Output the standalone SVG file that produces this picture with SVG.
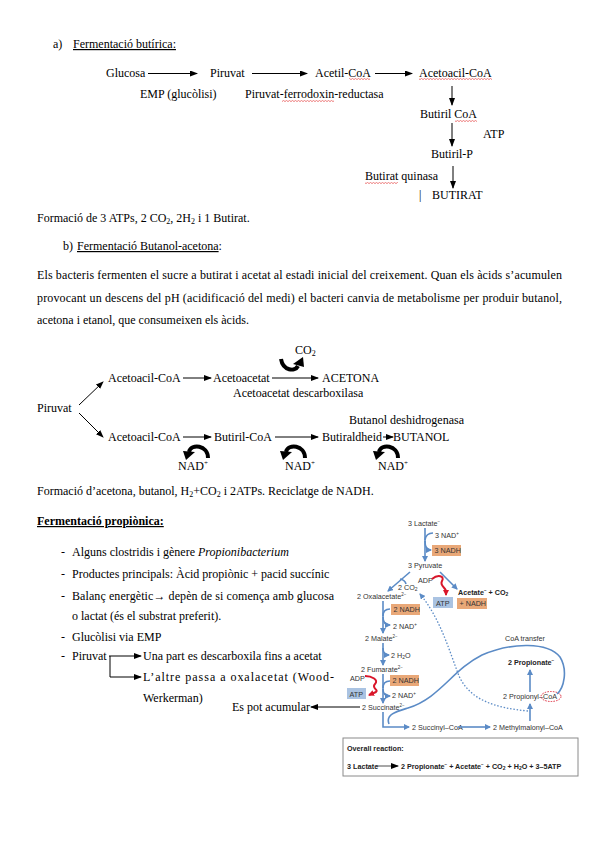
<svg xmlns="http://www.w3.org/2000/svg" width="599" height="848" viewBox="0 0 599 848">
<defs>
<style>
.t{font-family:"Liberation Serif","Times New Roman",serif;font-size:12px;fill:#000}
.tb{font-family:"Liberation Serif","Times New Roman",serif;font-size:12px;font-weight:bold;fill:#000}
.f{font-family:"Liberation Sans",Arial,sans-serif;font-size:7.2px;fill:#333}
.fb{font-family:"Liberation Sans",Arial,sans-serif;font-size:7.2px;font-weight:bold;fill:#222}
.ln{stroke:#000;stroke-width:1;fill:none}
.thk{stroke:#000;stroke-width:4;fill:none}
.bl{stroke:#5b8bc6;stroke-width:1.6;fill:none}
.dt{stroke:#5b8bc6;stroke-width:1.3;fill:none;stroke-dasharray:1.5 1.8}
.rd{stroke:#d9162a;stroke-width:2;fill:none}
.nadh{fill:#e9a878}
.atp{fill:#aac3e2}
.sq{fill:url(#sq)}
</style>
<marker id="ah" markerWidth="8" markerHeight="6" refX="7" refY="3" orient="auto" markerUnits="userSpaceOnUse"><path d="M0,0 L8,3 L0,6 z" fill="#000"/></marker>
<marker id="bh" markerWidth="6" markerHeight="6" refX="5" refY="3" orient="auto" markerUnits="userSpaceOnUse"><path d="M0,0 L6,3 L0,6 z" fill="#5b8bc6"/></marker>
<marker id="rh" markerWidth="6" markerHeight="6" refX="5" refY="3" orient="auto" markerUnits="userSpaceOnUse"><path d="M0,0 L6,3 L0,6 z" fill="#d9162a"/></marker>
<pattern id="sq" width="3" height="2" patternUnits="userSpaceOnUse"><path d="M0,1.6 L1.5,0.4 L3,1.6" stroke="#e02020" stroke-width="0.6" fill="none"/></pattern>
</defs>
<rect width="599" height="848" fill="#fff"/>

<!-- Section a -->
<g id="section-a-title">
<text class="t" x="53" y="48">a)</text>
<text class="t" x="73" y="48" text-decoration="underline">Fermentació butírica:</text>
</g>
<g id="node-glucosa"><text class="t" x="106" y="77">Glucosa</text></g>
<g id="node-piruvat-a"><text class="t" x="210" y="77">Piruvat</text></g>
<g id="node-acetilcoa"><text class="t" x="315" y="77">Acetil-CoA</text><rect class="sq" x="349" y="78" width="21" height="2"/></g>
<g id="node-acetoacilcoa-a"><text class="t" x="419" y="77">Acetoacil-CoA</text><rect class="sq" x="419" y="78" width="73" height="2"/></g>
<g id="label-emp"><text class="t" x="140" y="98">EMP (glucòlisi)</text></g>
<g id="label-pfr"><text class="t" x="245" y="98">Piruvat-ferrodoxin-reductasa</text><rect class="sq" x="282" y="100" width="52" height="2"/></g>
<g id="node-butirilcoa"><text class="t" x="420" y="118">Butiril CoA</text><rect class="sq" x="455" y="120" width="22" height="2"/></g>
<g id="label-atp-a"><text class="t" x="483" y="138">ATP</text></g>
<g id="node-butirilp"><text class="t" x="431" y="158">Butiril-P</text></g>
<g id="label-bq"><text class="t" x="365" y="180">Butirat quinasa</text><rect class="sq" x="365" y="182" width="33" height="2"/></g>
<g id="node-butirat"><text class="t" x="419" y="199">|</text><text class="t" x="432" y="199">BUTIRAT</text></g>

<g id="connectors-a">
<line class="ln" x1="148" y1="73.5" x2="197" y2="73.5" marker-end="url(#ah)"/>
<line class="ln" x1="252" y1="73.5" x2="307" y2="73.5" marker-end="url(#ah)"/>
<line class="ln" x1="375" y1="73.5" x2="412" y2="73.5" marker-end="url(#ah)"/>
<line class="ln" x1="452" y1="86" x2="452" y2="105" marker-end="url(#ah)"/>
<line class="ln" x1="452" y1="123" x2="452" y2="146" marker-end="url(#ah)"/>
<line class="ln" x1="453" y1="166" x2="453" y2="188" marker-end="url(#ah)"/>
</g>

<g id="summary-a"><text class="t" x="37" y="222">Formació de 3 ATPs, 2 CO<tspan font-size="8" dy="2">2</tspan><tspan dy="-2">, 2H</tspan><tspan font-size="8" dy="2">2</tspan><tspan dy="-2"> i 1 Butirat.</tspan></text></g>

<!-- Section b -->
<g id="section-b-title">
<text class="t" x="63" y="250">b)</text>
<text class="t" x="77" y="250"><tspan text-decoration="underline">Fermentació Butanol-acetona</tspan>:</text>
</g>
<g id="paragraph-b">
<text class="t" x="37" y="279" textLength="525" lengthAdjust="spacing">Els bacteris fermenten el sucre a butirat i acetat al estadi inicial del creixement. Quan els àcids s’acumulen</text>
<text class="t" x="37" y="302" textLength="525" lengthAdjust="spacing">provocant un descens del pH (acidificació del medi) el bacteri canvia de metabolisme per produir butanol,</text>
<text class="t" x="37" y="324">acetona i etanol, que consumeixen els àcids.</text>
</g>

<g id="node-piruvat-b"><text class="t" x="37" y="412">Piruvat</text></g>
<g id="node-acetoacilcoa-b1"><text class="t" x="108" y="382">Acetoacil-CoA</text></g>
<g id="node-acetoacetat"><text class="t" x="213" y="382">Acetoacetat</text></g>
<g id="node-acetona"><text class="t" x="322" y="382">ACETONA</text></g>
<g id="label-co2-b"><text class="t" x="295" y="354">CO<tspan font-size="8" dy="2">2</tspan></text></g>
<g id="label-descarb"><text class="t" x="233" y="397">Acetoacetat descarboxilasa</text></g>
<g id="label-butdeh"><text class="t" x="349" y="424">Butanol deshidrogenasa</text></g>
<g id="node-acetoacilcoa-b2"><text class="t" x="108" y="441">Acetoacil-CoA</text></g>
<g id="node-butirilcoa-b"><text class="t" x="214" y="441">Butiril-CoA</text></g>
<g id="node-butiraldheid"><text class="t" x="322" y="441">Butiraldheid</text></g>
<g id="node-butanol"><text class="t" x="393" y="441">BUTANOL</text></g>
<g id="label-nad-1"><text class="t" x="178" y="470">NAD<tspan font-size="7" dy="-5">+</tspan></text></g>
<g id="label-nad-2"><text class="t" x="285" y="470">NAD<tspan font-size="7" dy="-5">+</tspan></text></g>
<g id="label-nad-3"><text class="t" x="378" y="470">NAD<tspan font-size="7" dy="-5">+</tspan></text></g>

<g id="connectors-b">
<line class="ln" x1="79" y1="405" x2="103" y2="382" marker-end="url(#ah)"/>
<line class="ln" x1="79" y1="413" x2="103" y2="437" marker-end="url(#ah)"/>
<line class="ln" x1="183" y1="378" x2="211" y2="378" marker-end="url(#ah)"/>
<line class="ln" x1="272" y1="378" x2="318" y2="378" marker-end="url(#ah)"/>
<line class="ln" x1="183" y1="437" x2="211" y2="437" marker-end="url(#ah)"/>
<line class="ln" x1="275" y1="437" x2="318" y2="437" marker-end="url(#ah)"/>
<line class="ln" x1="383" y1="437" x2="393" y2="437" marker-end="url(#ah)"/>
<path class="thk" d="M281,359 C283,371 295,372 298,366"/>
<polygon points="293,364 304,367 303,357" fill="#000"/>
<path class="thk" d="M208,458 C208,445 191,443 189,452"/>
<polygon points="183,451 195,452 186,460" fill="#000"/>
<path class="thk" d="M305,458 C305,445 288,443 286,452"/>
<polygon points="280,451 292,452 283,460" fill="#000"/>
<path class="thk" d="M398,458 C398,445 381,443 379,452"/>
<polygon points="373,451 385,452 376,460" fill="#000"/>
</g>

<g id="summary-b"><text class="t" x="37" y="495">Formació d’acetona, butanol, H<tspan font-size="8" dy="2">2</tspan><tspan dy="-2">+CO</tspan><tspan font-size="8" dy="2">2</tspan><tspan dy="-2"> i 2ATPs. Reciclatge de NADH.</tspan></text></g>

<!-- Propionic section -->
<g id="section-c-title"><text class="tb" x="37" y="525" text-decoration="underline">Fermentació propiònica:</text></g>
<g id="bullets">
<text class="t" x="61" y="556">-</text><text class="t" x="72" y="556">Alguns clostridis i gènere <tspan font-style="italic">Propionibacterium</tspan></text>
<text class="t" x="61" y="578">-</text><text class="t" x="72" y="578">Productes principals: Àcid propiònic + pacid succínic</text>
<text class="t" x="61" y="600">-</text><text class="t" x="72" y="600" textLength="262" lengthAdjust="spacing">Balanç energètic→ depèn de si comença amb glucosa</text>
<text class="t" x="72" y="620">o lactat (és el substrat preferit).</text>
<text class="t" x="61" y="641">-</text><text class="t" x="72" y="641">Glucòlisi via EMP</text>
<text class="t" x="61" y="660">-</text><text class="t" x="72" y="660">Piruvat</text>
<text class="t" x="143" y="660">Una part es descarboxila fins a acetat</text>
<text class="t" x="143" y="681" textLength="191" lengthAdjust="spacing">L’altre passa a oxalacetat (Wood-</text>
<text class="t" x="143" y="702">Werkerman)</text>
<text class="t" x="232" y="711">Es pot acumular</text>
</g>
<g id="connectors-c">
<line class="ln" x1="109" y1="656" x2="141" y2="656" marker-end="url(#ah)"/>
<path class="ln" d="M110,656 L110,677 L141,677" marker-end="url(#ah)"/>
<line class="ln" x1="360" y1="707" x2="311" y2="707" marker-end="url(#ah)"/>
</g>

<!-- Figure: propionic fermentation -->
<g id="fig-lactate"><text class="f" x="408" y="525.5">3 Lactate<tspan font-size="4.5" dy="-3">−</tspan></text></g>
<g id="fig-nad-1"><text class="f" x="435" y="537.5">3 NAD<tspan font-size="4.5" dy="-3">+</tspan></text></g>
<g id="fig-nadh-1"><rect class="nadh" x="432" y="545" width="29" height="11"/><text class="f" x="434.5" y="553" fill="#222">3 NADH</text></g>
<g id="fig-pyruvate"><text class="f" x="408" y="568">3 Pyruvate</text></g>
<g id="fig-adp-1"><text class="f" x="418" y="582.5">ADP</text></g>
<g id="fig-co2"><text class="f" x="398" y="589.5">2 CO<tspan font-size="5" dy="1.5">2</tspan></text></g>
<g id="fig-acetate"><text class="fb" x="458" y="594.5">Acetate<tspan font-size="4.5" dy="-3">−</tspan><tspan dy="3"> + CO</tspan><tspan font-size="5" dy="1.5">2</tspan></text></g>
<g id="fig-oxalacetate"><text class="f" x="357" y="599">2 Oxalacetate<tspan font-size="4.5" dy="-3">2−</tspan></text></g>
<g id="fig-atp-1"><rect class="atp" x="433" y="597" width="20" height="11"/><text class="f" x="436" y="605.5">ATP</text></g>
<g id="fig-nadh-2"><rect class="nadh" x="457" y="598" width="30" height="11"/><text class="f" x="459.5" y="606">+ NADH</text></g>
<g id="fig-nadh-3"><rect class="nadh" x="391" y="604" width="29" height="11"/><text class="f" x="393.5" y="612">2 NADH</text></g>
<g id="fig-nad-2"><text class="f" x="393" y="628.5">2 NAD<tspan font-size="4.5" dy="-3">+</tspan></text></g>
<g id="fig-malate"><text class="f" x="365" y="640.5">2 Malate<tspan font-size="4.5" dy="-3">2−</tspan></text></g>
<g id="fig-coa-transfer"><text class="f" x="505" y="641">CoA transfer</text></g>
<g id="fig-h2o"><text class="f" x="391" y="657.5">2 H<tspan font-size="5" dy="1.5">2</tspan><tspan dy="-1.5">O</tspan></text></g>
<g id="fig-propionate"><text class="fb" x="508" y="665">2 Propionate<tspan font-size="4.5" dy="-3">−</tspan></text></g>
<g id="fig-fumarate"><text class="f" x="361" y="671.5">2 Fumarate<tspan font-size="4.5" dy="-3">2−</tspan></text></g>
<g id="fig-adp-2"><text class="f" x="350" y="680.5">ADP</text></g>
<g id="fig-nadh-4"><rect class="nadh" x="390" y="675" width="29" height="11"/><text class="f" x="392.5" y="683">2 NADH</text></g>
<g id="fig-atp-2"><rect class="atp" x="347" y="688" width="19" height="11"/><text class="f" x="349.5" y="696.5">ATP</text></g>
<g id="fig-nad-3"><text class="f" x="392" y="697.5">2 NAD<tspan font-size="4.5" dy="-3">+</tspan></text></g>
<g id="fig-propionylcoa"><text class="f" x="503" y="699">2 Propionyl–CoA</text><ellipse cx="551" cy="696.5" rx="10" ry="5" fill="none" stroke="#d9162a" stroke-width="0.9" stroke-dasharray="1.5 1.2"/></g>
<g id="fig-succinate"><text class="f" x="362" y="709.5">2 Succinate<tspan font-size="4.5" dy="-3">2−</tspan></text></g>
<g id="fig-succinylcoa"><text class="f" x="412" y="729.5">2 Succinyl–CoA</text></g>
<g id="fig-methylmalonylcoa"><text class="f" x="493" y="729.5">2 Methylmalonyl–CoA</text></g>
<g id="fig-overall">
<rect x="343" y="738" width="235" height="38" fill="#fff" stroke="#8a8a8a" stroke-width="1"/>
<text class="fb" x="347" y="750.5">Overall reaction:</text>
<text class="fb" x="347" y="768.5">3 Lactate</text>
<line x1="376" y1="766" x2="398" y2="766" stroke="#222" stroke-width="0.8" marker-end="url(#ah)"/>
<text class="fb" x="401" y="768.5" font-size="7.5">2 Propionate<tspan font-size="4.5" dy="-3">−</tspan><tspan dy="3">  +  Acetate</tspan><tspan font-size="4.5" dy="-3">−</tspan><tspan dy="3"> + CO</tspan><tspan font-size="5" dy="1.5">2</tspan><tspan dy="-1.5"> + H</tspan><tspan font-size="5" dy="1.5">2</tspan><tspan dy="-1.5">O  +  3–5ATP</tspan></text>
</g>

<g id="fig-connectors">
<path class="bl" d="M425,528 L425,561" marker-end="url(#bh)"/>
<path class="bl" d="M433,533 Q426,533 425,540"/>
<path class="bl" d="M425,541 Q425,550 431,550" marker-end="url(#bh)"/>
<path class="bl" d="M410,572 L388,591" marker-end="url(#bh)"/>
<path class="bl" d="M400,579 Q405,580 406,584"/>
<path class="bl" d="M440,572 L457,589" marker-end="url(#bh)"/>
<path class="bl" d="M383,601 L383,633" marker-end="url(#bh)"/>
<path class="bl" d="M390,609 Q383,609 383,616"/>
<path class="bl" d="M383,617 Q383,625 390,625" marker-end="url(#bh)"/>
<path class="bl" d="M383,643 L383,665" marker-end="url(#bh)"/>
<path class="bl" d="M383,648 Q383,655 389,655" marker-end="url(#bh)"/>
<path class="bl" d="M383,674 L383,703" marker-end="url(#bh)"/>
<path class="bl" d="M390,681 Q383,681 383,688"/>
<path class="bl" d="M383,689 Q383,696 390,696" marker-end="url(#bh)"/>
<path class="bl" d="M383,712 L383,727 L409,727" marker-end="url(#bh)"/>
<path class="bl" d="M458,727 L490,727" marker-end="url(#bh)"/>
<path class="bl" d="M530,721 L530,704" marker-end="url(#bh)"/>
<path class="bl" d="M530,692 L530,670" marker-end="url(#bh)"/>
<path class="bl" d="M389,724 C385,714 398,711 408,708 C440,698 452,670 482,655 C512,642 548,642 560,657 C568,670 564,688 557,694"/>
<path class="dt" d="M528,711 C495,708 470,700 459,676 C449,650 440,618 420,594" marker-end="url(#bh)"/>
<path class="rd" d="M432,579 C438,574 445,576 442,581 C439,586 447,588 446,592 L446,595" marker-end="url(#rh)"/>
<path class="rd" d="M365,676 C372,676 379,680 375,684 C371,688 379,690 376,692 L369,695" marker-end="url(#rh)"/>
</g>
</svg>
